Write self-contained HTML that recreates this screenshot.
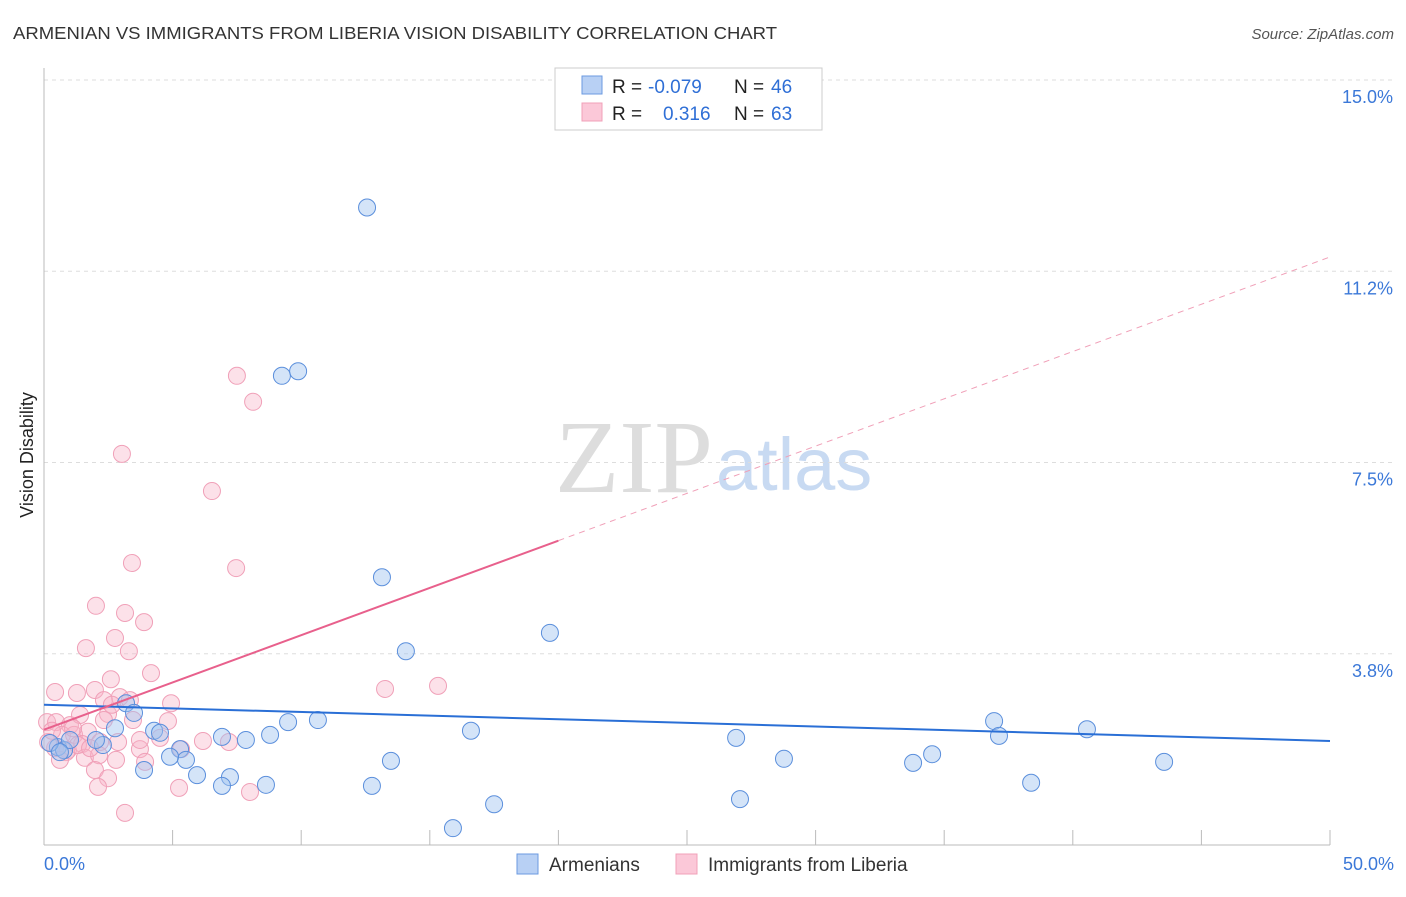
<!DOCTYPE html>
<html><head><meta charset="utf-8"><style>
body{margin:0;background:#fff;font-family:"Liberation Sans",sans-serif}
</style></head><body>
<svg id="c" width="1406" height="892" xmlns="http://www.w3.org/2000/svg">
<text x="13" y="39" font-size="17.5" fill="#333" textLength="764" lengthAdjust="spacingAndGlyphs">ARMENIAN VS IMMIGRANTS FROM LIBERIA VISION DISABILITY CORRELATION CHART</text>
<text x="1394" y="39" font-size="15" fill="#555" font-style="italic" text-anchor="end">Source: ZipAtlas.com</text>
<text x="555" y="492" font-size="104" fill="#ddd" textLength="158" lengthAdjust="spacingAndGlyphs" font-family="Liberation Serif,serif">ZIP</text>
<text x="716" y="490" font-size="74" fill="#c8daf2">atlas</text>
<text transform="translate(33,455) rotate(-90)" font-size="18" fill="#222" text-anchor="middle">Vision Disability</text>
<g id="grid"></g><g id="marks"></g>
<g>
<rect x="555" y="68" width="267" height="62" fill="#fff" stroke="#ccc"/>
<rect x="582" y="76" width="20" height="18" fill="#b8d0f4" stroke="#6b9ae0"/>
<rect x="582" y="103" width="20" height="18" fill="#fbc8d8" stroke="#f0a0b8"/>
<text x="612" y="93" font-size="19" fill="#222">R =</text>
<text x="648" y="93" font-size="19" fill="#2f6fd6">-0.079</text>
<text x="734" y="93" font-size="19" fill="#222">N =</text>
<text x="771" y="93" font-size="19" fill="#2f6fd6">46</text>
<text x="612" y="120" font-size="19" fill="#222">R =</text>
<text x="663" y="120" font-size="19" fill="#2f6fd6">0.316</text>
<text x="734" y="120" font-size="19" fill="#222">N =</text>
<text x="771" y="120" font-size="19" fill="#2f6fd6">63</text>
</g>
<g>
<rect x="517" y="854" width="21" height="20" fill="#b8d0f4" stroke="#6b9ae0"/>
<text x="549" y="871" font-size="19" fill="#333">Armenians</text>
<rect x="676" y="854" width="21" height="20" fill="#fbc8d8" stroke="#f0a0b8"/>
<text x="708" y="871" font-size="19" fill="#333">Immigrants from Liberia</text>
</g>
</svg>
<script>
const yTicks=[3.75,7.5,11.25,15];
const yTickLabels=["3.8%","7.5%","11.2%","15.0%"];
const xTickLabels=["0.0%","50.0%"];
const blueX=[12.56,9.25,9.88,13.14,19.67,14.07,3.19,3.50,2.76,4.28,4.51,2.29,0.54,0.78,0.23,5.29,5.52,4.90,6.92,7.85,8.79,9.49,10.65,16.60,13.49,5.95,3.89,7.23,6.92,8.63,12.75,17.50,15.90,26.91,28.77,27.06,33.79,34.53,36.94,37.13,38.38,40.55,43.55,2.02,1.01,0.62];
const blueY=[12.5,9.20,9.29,5.25,4.16,3.80,2.78,2.59,2.29,2.24,2.20,1.96,1.92,1.86,2.00,1.88,1.67,1.73,2.12,2.06,2.16,2.41,2.45,2.24,1.65,1.37,1.47,1.33,1.16,1.18,1.16,0.80,0.33,2.10,1.69,0.90,1.61,1.78,2.43,2.14,1.22,2.27,1.63,2.06,2.06,1.82];
const pinkX=[7.50,8.13,3.03,6.53,3.42,7.47,2.02,3.15,3.89,1.63,2.76,3.30,4.16,0.43,2.60,1.28,1.98,2.95,2.33,4.94,13.26,15.32,0.12,0.47,1.01,1.40,2.49,3.46,4.82,0.70,1.17,1.71,2.18,2.88,4.51,6.18,7.19,0.43,0.93,1.48,3.73,1.59,2.14,2.80,3.93,1.98,2.49,5.33,3.73,2.10,5.25,8.01,3.15,0.16,0.31,0.86,1.32,1.79,2.33,2.64,0.62,1.13,3.34];
const pinkY=[9.20,8.69,7.67,6.94,5.53,5.43,4.69,4.55,4.37,3.86,4.06,3.80,3.37,3.00,3.25,2.98,3.04,2.90,2.84,2.78,3.06,3.12,2.41,2.41,2.35,2.55,2.57,2.45,2.43,2.16,2.16,2.22,2.02,2.02,2.10,2.04,2.02,1.90,1.86,1.98,1.88,1.71,1.76,1.67,1.63,1.47,1.31,1.88,2.06,1.14,1.12,1.04,0.63,2.02,2.24,1.82,1.96,1.90,2.45,2.75,1.67,2.29,2.84];
const blueTrend=[2.75,2.04];
const pinkTrend=[2.26,11.53];
const pinkSolidEnd=20;
const NS="http://www.w3.org/2000/svg";
const X=v=>44+v/50*1286, Y=v=>845-v*51;
function mk(t,a,p){const e=document.createElementNS(NS,t);for(const k in a)e.setAttribute(k,a[k]);p.appendChild(e);return e;}
const g=document.getElementById('grid'), m=document.getElementById('marks');
yTicks.forEach((t,i)=>{
 const l=mk('line',{x1:44,x2:1394,y1:Y(t),y2:Y(t),stroke:'#ddd','stroke-dasharray':'4,4'},g);
 
 
 const tx=mk('text',{x:1393,y:Y(t)+23,'font-size':18,fill:'#3b78d8','text-anchor':'end'},g);
 tx.textContent=yTickLabels[i];
 
 
});
const ax=mk('line',{x1:44,x2:44,y1:68,y2:845,stroke:'#bbb'},g);


const bx=mk('line',{x1:44,x2:1330,y1:845,y2:845,stroke:'#bbb'},g);


for(let i=0;i<=10;i++){const t=mk('line',{x1:X(i*5),x2:X(i*5),y1:830,y2:845,stroke:'#bbb'},g);
 
 }
[[0,'start'],[50,'end']].forEach((d,i)=>{const t=mk('text',{x:d[0]?1394:44,y:870,'font-size':18,fill:'#3b78d8','text-anchor':d[1]},g);t.textContent=xTickLabels[i];
 
 });
function dots(xs,ys,fill,st,name){xs.forEach((x,i)=>{const c=mk('circle',{cx:X(x),cy:Y(ys[i]),r:8.5,fill:fill,stroke:st,'stroke-width':1},m);
 
 });}
dots(pinkX,pinkY,'rgba(248,180,200,0.4)','#f0a0b8','point-liberia');
dots(blueX,blueY,'rgba(160,196,240,0.45)','#5b8fdc','point-armenians');
const pv=x=>pinkTrend[0]+(pinkTrend[1]-pinkTrend[0])*x/50;
const l1=mk('line',{x1:X(0),y1:Y(blueTrend[0]),x2:X(50),y2:Y(blueTrend[1]),stroke:'#2a6fd6','stroke-width':2},m);


const l2=mk('line',{x1:X(0),y1:Y(pv(0)),x2:X(pinkSolidEnd),y2:Y(pv(pinkSolidEnd)),stroke:'#e8608c','stroke-width':2},m);


const l3=mk('line',{x1:X(pinkSolidEnd),y1:Y(pv(pinkSolidEnd)),x2:X(50),y2:Y(pv(50)),stroke:'#f0a0b8','stroke-width':1,'stroke-dasharray':'6,5'},m);


</script>
</body></html>
